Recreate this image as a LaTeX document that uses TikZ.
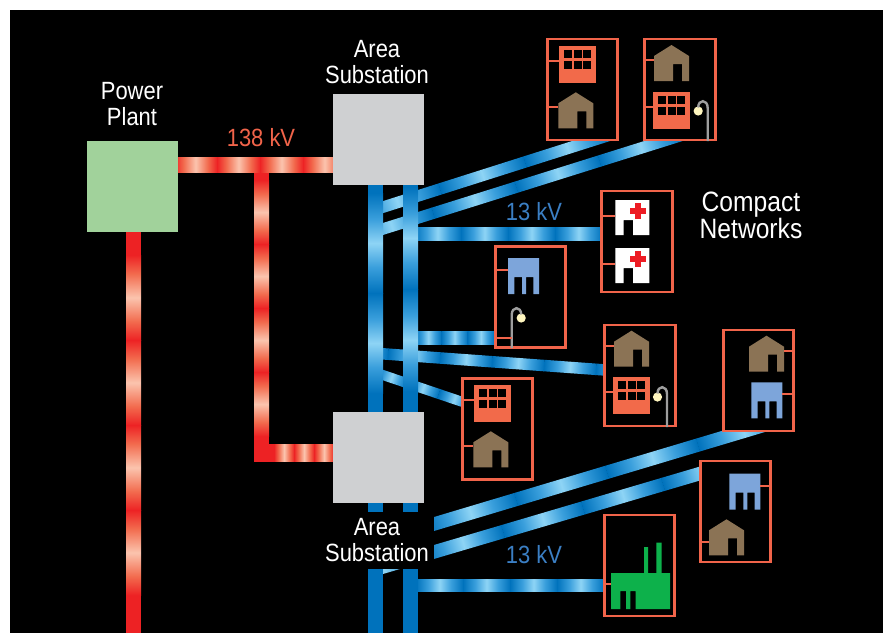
\documentclass[tikz,border=0pt]{standalone}
\usepackage{xcolor}
\usepackage{fontspec}
\setmainfont{Liberation Sans}[FakeStretch=0.88]
\definecolor{feedblue}{HTML}{0072BC}
\definecolor{feedmid}{HTML}{3A9FDC}
\definecolor{feedpale}{HTML}{8ED4F5}
\definecolor{feedred}{HTML}{ED2224}
\definecolor{feedorange}{HTML}{F26B4E}
\definecolor{feedpink}{HTML}{FBC4AE}
\definecolor{edgeline}{HTML}{F1644A}
\definecolor{plantgreen}{HTML}{A1D29B}
\definecolor{stationgrey}{HTML}{CFD0D2}
\definecolor{housetan}{HTML}{8B7355}
\definecolor{officeorange}{HTML}{F26A4A}
\definecolor{depotblue}{HTML}{7DA5DA}
\definecolor{crossred}{HTML}{ED1C24}
\definecolor{millgreen}{HTML}{0DB14B}
\definecolor{bulbcream}{HTML}{FFF6BF}
\definecolor{lowlabel}{HTML}{3B7FC4}
\usepackage{tikz}
\usetikzlibrary{calc}
\pgfdeclarehorizontalshading{bluewave}{100bp}{color(0bp)=(feedblue); color(25bp)=(feedblue);
  color(38bp)=(feedmid); color(50bp)=(feedpale); color(62bp)=(feedmid); color(75bp)=(feedblue); color(100bp)=(feedblue)}
\pgfdeclarehorizontalshading{redwave}{100bp}{color(0bp)=(feedred); color(25bp)=(feedred);
  color(36bp)=(feedorange); color(50bp)=(feedpink); color(64bp)=(feedorange); color(75bp)=(feedred); color(100bp)=(feedred)}
% shading, from, to, width in px, number of cycles
\newcommand{\wire}[5]{%
  \path let \p1=(#2), \p2=(#3), \n1={atan2(\y2-\y1,\x2-\x1)},
        \n2={veclen(\x2-\x1,\y2-\y1)/#5} in
    \pgfextra{\foreach \k in {1,...,#5} {
      \shade[shading=#1, transform canvas={shift={(\p1)}, rotate=\n1, xshift={(\k-1)*\n2}}]
        (0pt,{-#4*0.375pt}) rectangle ({\n2+0.2pt},{#4*0.375pt});
    }};
}
\tikzset{
  house/.pic={
    \fill[housetan] (0,11) -- (17.5,0) -- (35,11) -- (35,36) -- (28,36) -- (28,19)
      -- (19,19) -- (19,36) -- (0,36) -- cycle;
    \coordinate (-w) at (0,15);
    \coordinate (-e) at (35,15);
  },
  office/.pic={
    \fill[officeorange] (0,0) rectangle (37,37);
    \foreach \wx in {5,14.5,24} \foreach \wy in {4,15}
      \fill[black] (\wx,\wy) rectangle ++(8,8);
    \coordinate (-w) at (0,14.7);
  },
  clinic/.pic={
    \fill[white] (0,0) -- (34,0) -- (34,35) -- (17.7,35) -- (17.7,20) -- (8.3,20) -- (8.3,35) -- (0,35) -- cycle;
    \fill[crossred] (14.7,7.7) rectangle (30.7,14.4);
    \fill[crossred] (19.3,3) rectangle (26,19);
    \coordinate (-w) at (0,15.7);
  },
  depot/.pic={
    \fill[depotblue] (0,0) -- (31,0) -- (31,36) -- (25.3,36) -- (25.3,19) -- (18,19) -- (18,36)
      -- (14,36) -- (14,19) -- (6.3,19) -- (6.3,36) -- (0,36) -- cycle;
    \coordinate (-w) at (0,12);
    \coordinate (-e) at (31,12);
  },
  mill/.pic={
    \fill[millgreen] (0,0) -- (33,0) -- (33,-26) -- (37,-26) -- (37,0) -- (45.3,0) -- (45.3,-30.3)
      -- (50.7,-30.3) -- (50.7,0) -- (59,0) -- (59,36) -- (24.7,36) -- (24.7,18) -- (19.3,18) -- (19.3,36)
      -- (15,36) -- (15,18) -- (9.3,18) -- (9.3,36) -- (0,36) -- cycle;
    \coordinate (-w) at (0,11.3);
  },
  lamp/.pic={
    \fill[bulbcream] (-9.5,-30) circle (4.6);
    \draw[black!38, line width=1.8pt] (0,0) -- (0,-33) .. controls (0,-42) and (-9.5,-42) .. (-9.5,-33.5);
    \coordinate (-w) at (0,-9.7);
  }
}

\begin{document}
\begin{tikzpicture}[
  x=0.75pt, y=-0.75pt,
  label/.style={font=\fontsize{18.7}{19.5}\selectfont, text=white, align=center, inner sep=0pt},
  netbox/.style={draw=edgeline, line width=2.1pt, fill=black, inner sep=0pt,
                 minimum width=52.9pt, minimum height=75.7pt},
  block/.style={inner sep=0pt, minimum size=68.25pt},
  stubline/.style={edgeline, line width=1.6pt}
]
  \path[use as bounding box, fill=white] (0,0) rectangle (883,633);
  \clip (0,0) rectangle (883,633);
  \fill[black] (10,10) rectangle (883,633);

  % 138 kV feeders
  \fill[feedred] (126,231) rectangle (141,633);
  \wire{redwave}{133.5,255}{133.5,595}{15}{4}
  \wire{redwave}{174,165}{346,165}{15.5}{4}
  \fill[feedred] (254,173) rectangle (269,462);
  \wire{redwave}{261.5,180}{261.5,436}{15}{4}
  \fill[feedred] (269,444) rectangle (274,462);
  \wire{redwave}{274,453}{334,453}{17.5}{3}

  % slanted 13 kV feeders, cut off at the left bar
  \begin{scope}
    \clip (375,0) rectangle (883,633);
    \wire{bluewave}{355,216}{610,135}{11.5}{3}
    \wire{bluewave}{350,239.3}{682.6,135}{11.5}{4}
    \wire{bluewave}{336,350.4}{648,373.1}{11.5}{6}
    \wire{bluewave}{375.5,372.5}{470,404.5}{10}{3}
    \wire{bluewave}{425,526.7}{789,417.8}{13.4}{4}
  \end{scope}
  \begin{scope}
    \clip (375,0) rectangle (705,633);
    \wire{bluewave}{343,578.8}{743,460.8}{13.4}{5}
  \end{scope}

  % level 13 kV feeders
  \wire{bluewave}{414,233.5}{602,233.5}{13}{4}
  \wire{bluewave}{415,337.5}{494,337.5}{13}{3}
  \wire{bluewave}{416,585}{604,585}{12}{4}

  % the two bars
  \fill[feedblue] (368,185) rectangle (383,633);
  \fill[feedblue] (403,185) rectangle (418,633);
  \wire{bluewave}{375.5,193}{375.5,393}{15}{2}
  \wire{bluewave}{410.5,187}{410.5,391}{15}{2}

  % plant and substations
  \node[block, fill=plantgreen]  (plant) at (132.5,186.5) {};
  \node[block, fill=stationgrey] (sub1)  at (378.5,139.5) {};
  \node[block, fill=stationgrey] (sub2)  at (378.5,457.5) {};
  \fill[black] (325,512) rectangle (434,569);

  % customer boxes
  \node[netbox] (net1) at (582.5,89.5) {};
  \node[netbox] (net2) at (680,89.5)   {};
  \node[netbox] (net3) at (637,241.5)  {};
  \node[netbox] (net4) at (530.5,297)  {};
  \node[netbox] (net5) at (758.5,380.5) {};
  \node[netbox] (net6) at (640,375.5)  {};
  \node[netbox] (net7) at (497.5,429)  {};
  \node[netbox] (net8) at (735.5,511.5) {};
  \node[netbox] (net9) at (639.5,565.5) {};

  \pic (off1)  at (559,46)      {office};
  \pic (hse1)  at (558.3,92.3)  {house};
  \pic (hse2)  at (654,45)      {house};
  \pic (off2)  at (653,92)      {office};
  \pic (lmp2)  at (707.7,141)   {lamp};
  \pic (cln1)  at (615.3,200)   {clinic};
  \pic (cln2)  at (615.3,248)   {clinic};
  \pic (dep4)  at (508,258)     {depot};
  \pic[xscale=-1] (lmp4) at (511.7,348) {lamp};
  \pic (hse5)  at (749,335.7)   {house};
  \pic (dep5)  at (751.3,382.3) {depot};
  \pic (hse6)  at (614,330.7)   {house};
  \pic (off6)  at (613,377)     {office};
  \pic (lmp6)  at (667,427)     {lamp};
  \pic (off7)  at (474,385)     {office};
  \pic (hse7)  at (473.3,431.3) {house};
  \pic (dep8)  at (729.3,473.7) {depot};
  \pic (hse8)  at (709,519.3)   {house};
  \pic (mil9)  at (611,573)     {mill};
  \coordinate (hse8p) at (709,541.7);

  \draw[stubline] (net1.west |- off1-w) -- (off1-w);
  \draw[stubline] (net1.west |- hse1-w) -- (hse1-w);
  \draw[stubline] (net2.west |- hse2-w) -- (hse2-w);
  \draw[stubline] (net2.west |- off2-w) -- (off2-w);
  \draw[stubline] (net3.west |- cln1-w) -- (cln1-w);
  \draw[stubline] (net3.west |- cln2-w) -- (cln2-w);
  \draw[stubline] (net4.west |- dep4-w) -- (dep4-w);
  \draw[stubline] (net4.west |- lmp4-w) -- (lmp4-w);
  \draw[stubline] (net5.east |- hse5-e) -- (hse5-e);
  \draw[stubline] (net5.east |- dep5-e) -- (dep5-e);
  \draw[stubline] (net6.west |- hse6-w) -- (hse6-w);
  \draw[stubline] (net6.west |- off6-w) -- (off6-w);
  \draw[stubline] (net7.west |- off7-w) -- (off7-w);
  \draw[stubline] (net7.west |- hse7-w) -- (hse7-w);
  \draw[stubline] (net8.east |- dep8-e) -- (dep8-e);
  \draw[stubline] (net8.west |- hse8p)  -- (hse8p);
  \draw[stubline] (net9.west |- mil9-w) -- (mil9-w);

  % labels
  \node[label] (lplant) at (132,104.5)  {Power\\Plant};
  \node[label] (lsub1)  at (377,62) {Area\\Substation};
  \node[label] (lsub2)  at (377,540.5)  {Area\\Substation};
  \node[label, font=\fontsize{21}{20.3}\selectfont] (lnets) at (751,215) {Compact\\Networks};
  \node[label, text=edgeline]  (lhigh) at (261,138) {138 kV};
  \node[label, text=lowlabel]  (llow1) at (534,212) {13 kV};
  \node[label, text=lowlabel]  (llow2) at (534,555) {13 kV};
\end{tikzpicture}
\end{document}
